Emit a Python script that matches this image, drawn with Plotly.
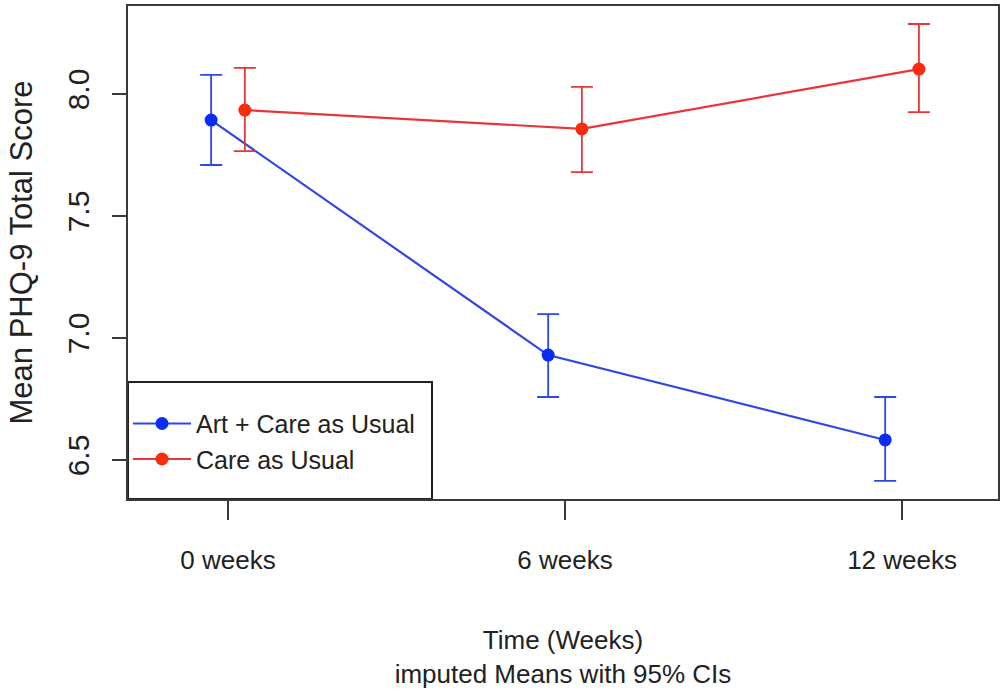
import plotly.graph_objects as go

weeks = [0, 6, 12]
tick_labels = ["0 weeks", "6 weeks", "12 weeks"]
dodge = 0.3

art_mean = [7.893, 6.930, 6.582]
art_lo = [7.709, 6.758, 6.414]
art_hi = [8.078, 7.098, 6.758]

cau_mean = [7.934, 7.857, 8.102]
cau_lo = [7.766, 7.680, 7.926]
cau_hi = [8.107, 8.029, 8.287]

FONT = "Liberation Sans, Arial, sans-serif"
TXT = "#222222"
AX = "#3a3a3a"

fig = go.Figure()

def add_series(name, means, lo, hi, offset, line_col, mark_col):
    xs = [w + offset for w in weeks]
    fig.add_trace(go.Scatter(
        x=xs, y=means, name=name, mode="lines+markers",
        line=dict(color=line_col, width=2.2),
        marker=dict(color=mark_col, size=13),
        error_y=dict(type="data", symmetric=False,
                     array=[h - m for h, m in zip(hi, means)],
                     arrayminus=[m - l for m, l in zip(means, lo)],
                     color=line_col, thickness=1.8, width=11),
    ))

add_series("Art + Care as Usual", art_mean, art_lo, art_hi, -dodge, "#2f47e3", "#0b2cf5")
add_series("Care as Usual", cau_mean, cau_lo, cau_hi, dodge, "#e8353a", "#fb2b0c")

fig.update_layout(
    width=1000, height=694,
    margin=dict(l=128, r=2, t=6, b=195),
    paper_bgcolor="white", plot_bgcolor="white",
    font=dict(family=FONT, size=26, color=TXT),
    showlegend=True,
    legend=dict(x=0, y=0.035, xanchor="left", yanchor="bottom",
                bgcolor="rgba(0,0,0,0)", borderwidth=0,
                itemwidth=58, tracegroupgap=0,
                font=dict(family=FONT, size=25, color=TXT)),
    shapes=[dict(type="rect", xref="paper", yref="paper",
                 x0=0, x1=304 / 870, y0=0, y1=117 / 493,
                 line=dict(color="#222222", width=2), fillcolor="white", layer="below")],
)

fig.update_xaxes(
    range=[-1.780, 13.708], tickvals=weeks, ticktext=tick_labels,
    showgrid=False, zeroline=False, automargin=False,
    showline=True, linecolor=AX, linewidth=2, mirror=True,
    ticks="outside", ticklen=19, tickwidth=1.5, tickcolor=AX,
    ticklabelstandoff=18,
    tickfont=dict(family=FONT, size=26, color=TXT),
    title=dict(text="Time (Weeks)<br>imputed Means with 95% CIs",
               font=dict(family=FONT, size=26, color=TXT), standoff=57),
)
fig.update_yaxes(
    range=[6.340, 8.3607], tickvals=[6.5, 7.0, 7.5, 8.0],
    ticktext=["6.5", "7.0", "7.5", "8.0"], tickangle=-90,
    showgrid=False, zeroline=False, automargin=False,
    showline=True, linecolor=AX, linewidth=2, mirror=True,
    ticks="outside", ticklen=14, tickwidth=1.5, tickcolor=AX,
    ticklabelstandoff=11,
    tickfont=dict(family=FONT, size=30, color=TXT),
    title=dict(text="Mean PHQ-9 Total Score",
               font=dict(family=FONT, size=31, color=TXT), standoff=20),
)

post = (
    "document.body.style.margin='0';"
    "document.body.style.overflow='hidden';"
    "var gd=document.getElementById('{plot_id}');"
    "Plotly.Plots.resize(gd);"
)
fig.write_html("out.html", post_script=post, config={"displayModeBar": False})
